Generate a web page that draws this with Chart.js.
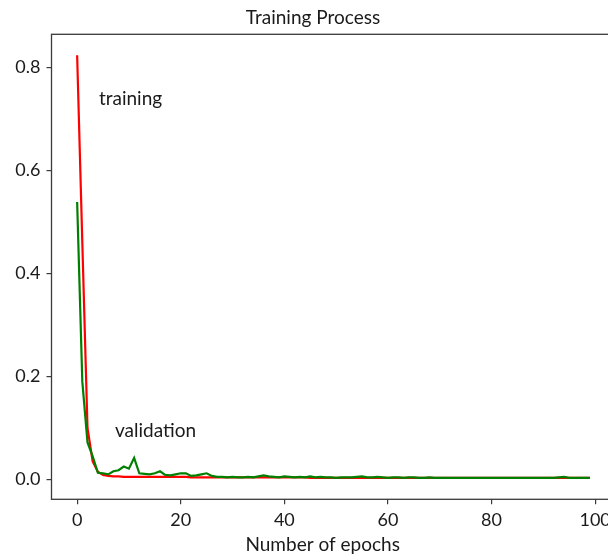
<!DOCTYPE html>
<html>
<head>
<meta charset="utf-8">
<script src="https://cdn.jsdelivr.net/npm/chart.js@4.4.1/dist/chart.umd.min.js"></script>
<style>
html,body{margin:0;padding:0;background:#fff;overflow:hidden;}
#wrap{width:626px;height:560px;}
</style>
</head>
<body>
<div id="wrap"><canvas id="c" width="626" height="560"></canvas></div>
<script>
// ---- data ----
const epochs = Array.from({length: 100}, (_, i) => i);
const trainingLoss = [
  0.824, 0.46, 0.10, 0.035, 0.015, 0.009, 0.007, 0.006, 0.006, 0.005,
  0.005, 0.005, 0.005, 0.005, 0.005, 0.005, 0.005, 0.005, 0.005, 0.005,
  0.005, 0.005, 0.004, 0.004, 0.004, 0.004, 0.004, 0.004, 0.004, 0.004,
  0.004, 0.004, 0.004, 0.004, 0.004, 0.004, 0.004, 0.004, 0.004, 0.004,
  0.004, 0.004, 0.004, 0.004, 0.004, 0.003, 0.003, 0.003, 0.003, 0.003,
  0.003, 0.003, 0.003, 0.003, 0.003, 0.003, 0.003, 0.003, 0.003, 0.003,
  0.003, 0.003, 0.003, 0.003, 0.003, 0.003, 0.003, 0.003, 0.003, 0.003,
  0.003, 0.003, 0.003, 0.003, 0.003, 0.003, 0.003, 0.003, 0.003, 0.003,
  0.003, 0.003, 0.003, 0.003, 0.003, 0.003, 0.003, 0.003, 0.003, 0.003,
  0.003, 0.003, 0.003, 0.003, 0.003, 0.003, 0.003, 0.003, 0.003, 0.003
];
const validationLoss = [
  0.539, 0.19, 0.072, 0.045, 0.013, 0.012, 0.010, 0.016, 0.018, 0.025,
  0.021, 0.042, 0.012, 0.011, 0.010, 0.012, 0.016, 0.009, 0.008, 0.010,
  0.012, 0.012, 0.007, 0.008, 0.010, 0.012, 0.007, 0.005, 0.005, 0.004,
  0.005, 0.004, 0.004, 0.005, 0.004, 0.006, 0.008, 0.006, 0.005, 0.004,
  0.006, 0.005, 0.004, 0.005, 0.004, 0.006, 0.004, 0.005, 0.004, 0.004,
  0.003, 0.004, 0.004, 0.004, 0.005, 0.006, 0.004, 0.004, 0.005, 0.004,
  0.003, 0.004, 0.004, 0.003, 0.004, 0.004, 0.003, 0.003, 0.004, 0.003,
  0.003, 0.003, 0.003, 0.003, 0.003, 0.003, 0.003, 0.003, 0.003, 0.003,
  0.003, 0.003, 0.003, 0.003, 0.003, 0.003, 0.003, 0.003, 0.003, 0.003,
  0.003, 0.003, 0.003, 0.004, 0.005, 0.003, 0.003, 0.003, 0.003, 0.003
];
const xTicks = [0, 20, 40, 60, 80, 100];
const yTicks = [0.0, 0.2, 0.4, 0.6, 0.8];
const titleText = 'Training Process';
const xLabelText = 'Number of epochs';
const annotations = [
  {text: 'training', x: 4.2, y: 0.740},
  {text: 'validation', x: 7.3, y: 0.095}
];

const FONT = 'Lato';
const AXIS_COLOR = '#3a3a3a';
const TEXT_COLOR = '#1a1a1a';

const framePlugin = {
  id: 'frame',
  afterDatasetsDraw(chart) {
    const {ctx, chartArea: a, scales} = chart;
    ctx.save();
    ctx.strokeStyle = AXIS_COLOR;
    ctx.lineWidth = 1.3;
    ctx.strokeRect(a.left, a.top, a.right - a.left, a.bottom - a.top);
    ctx.fillStyle = TEXT_COLOR;
    ctx.font = '19px ' + FONT;
    ctx.textBaseline = 'middle';
    ctx.textAlign = 'left';
    annotations.forEach(an => {
      ctx.fillText(an.text, scales.x.getPixelForValue(an.x), scales.y.getPixelForValue(an.y));
    });
    ctx.textAlign = 'center';
    ctx.fillText(xLabelText, scales.x.getPixelForValue(47.4), 545);
    ctx.restore();
  }
};

new Chart(document.getElementById('c'), {
  type: 'line',
  data: {
    datasets: [
      {
        label: 'training',
        data: epochs.map((e, i) => ({x: e, y: trainingLoss[i]})),
        borderColor: '#ff0000',
        borderWidth: 2.2,
        pointRadius: 0,
        tension: 0,
        fill: false,
        order: 1
      },
      {
        label: 'validation',
        data: epochs.map((e, i) => ({x: e, y: validationLoss[i]})),
        borderColor: '#008000',
        borderWidth: 2.2,
        pointRadius: 0,
        tension: 0,
        fill: false,
        order: 0
      }
    ]
  },
  options: {
    responsive: false,
    animation: false,
    devicePixelRatio: 1,
    layout: {padding: {left: 10.4, right: 10.4, top: 0, bottom: 0}},
    plugins: {
      legend: {display: false},
      tooltip: {enabled: false},
      title: {
        display: true,
        text: titleText,
        color: TEXT_COLOR,
        font: {family: FONT, size: 19, weight: 'normal', lineHeight: 1.2},
        padding: {top: 6.5, bottom: 5}
      }
    },
    scales: {
      x: {
        type: 'linear',
        min: -4.95,
        max: 103.95,
        afterBuildTicks: s => { s.ticks = xTicks.map(v => ({value: v})); },
        afterFit: s => { s.height = 60.7; },
        grid: {display: true, drawOnChartArea: false, drawTicks: true, tickLength: 5, color: AXIS_COLOR, lineWidth: 1.2},
        border: {display: false},
        ticks: {color: TEXT_COLOR, font: {family: FONT, size: 18}, padding: 5, maxRotation: 0, callback: v => String(v)}
      },
      y: {
        type: 'linear',
        min: -0.0385,
        max: 0.8645,
        afterBuildTicks: s => { s.ticks = yTicks.map(v => ({value: v})); },
        afterFit: s => { s.width = 41.1; },
        grid: {display: true, drawOnChartArea: false, drawTicks: true, tickLength: 5, color: AXIS_COLOR, lineWidth: 1.2},
        border: {display: false},
        ticks: {color: TEXT_COLOR, font: {family: FONT, size: 18}, padding: 6, callback: v => v.toFixed(1)}
      }
    }
  },
  plugins: [framePlugin]
});
</script>
</body>
</html>
